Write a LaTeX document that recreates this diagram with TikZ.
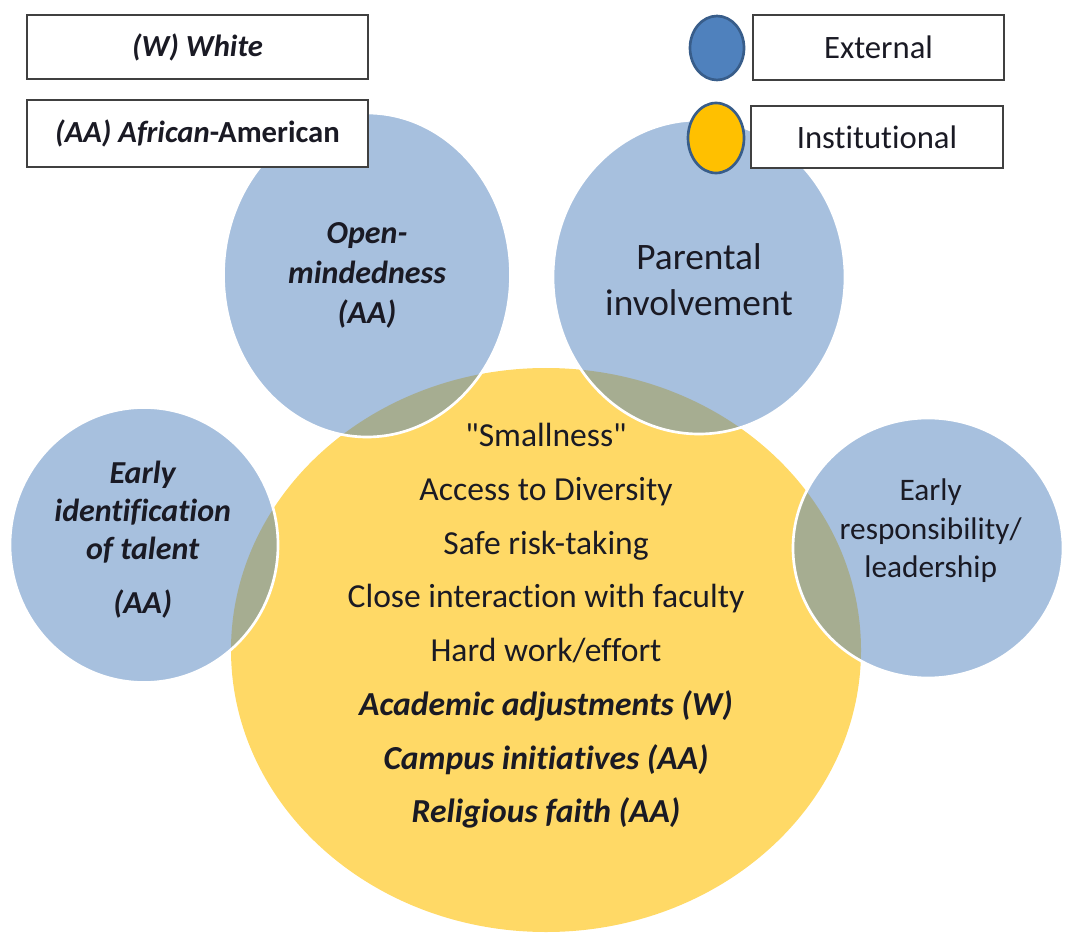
\documentclass[tikz,border=0pt]{standalone}
\usepackage{fontspec}
\setmainfont{Carlito}[Ligatures={NoCommon}]
\usetikzlibrary{shapes.geometric}
\newcommand\plainquote{\XeTeXglyph\XeTeXcharglyph"22\relax}
\definecolor{extblue}{HTML}{4F81BD}
\definecolor{instgold}{HTML}{FFC000}
\definecolor{rimblue}{HTML}{385D8A}
\definecolor{ink}{HTML}{1A1A24}
\definecolor{frame}{HTML}{404040}
\begin{document}
\begin{tikzpicture}[x=0.75pt,y=-0.75pt,
  bubble/.style={ellipse, inner sep=0pt, fill=extblue, fill opacity=0.5,
    draw=white, line width=2pt},
  core/.style={ellipse, inner sep=0pt, fill=instgold, fill opacity=0.6},
  bubtext/.style={align=center, text=ink, inner sep=0pt},
  keybox/.style={rectangle, draw=frame, fill=white, line width=1.5pt,
    text=ink, inner sep=0pt, font={\fontsize{23}{28}\selectfont}},
  keydot/.style={ellipse, inner sep=0pt, draw=rimblue, line width=2pt}]
\useasboundingbox (0,0) rectangle (1073,937);

% institutional core
\node[core, minimum width=472.5pt, minimum height=423pt] (inst) at (546,650) {};

% external factors
\node[bubble, minimum width=215.25pt, minimum height=243pt] (open) at (367,275) {};
\node[bubble, minimum width=219pt, minimum height=235.5pt] (parent) at (699,277) {};
\node[bubble, minimum width=201pt, minimum height=206.25pt] (talent) at (144,545) {};
\node[bubble, minimum width=202.5pt, minimum height=195pt] (lead) at (928,548) {};

% labels
\node[bubtext, font={\fontsize{24}{30}\selectfont\bfseries\itshape}] (opentext)
  at (open.center) {Open-\\mindedness\\(AA)};
\node[bubtext, font={\fontsize{28}{34}\selectfont}] (parenttext)
  at ([yshift=-2pt]parent.center) {Parental\\involvement};
\node[bubtext, font={\fontsize{24}{28.5}\selectfont\bfseries\itshape}] (talenttext)
  at ([xshift=-1pt,yshift=4pt]talent.center) {Early\\identification\\of talent\\[12pt](AA)};
\node[bubtext, font={\fontsize{23.5}{29}\selectfont}] (leadtext)
  at ([xshift=2pt,yshift=13pt]lead.center) {Early\\responsibility/\\leadership};
\node[bubtext, font={\fontsize{25.2}{40.3}\selectfont}] (insttext)
  at ([yshift=18pt]inst.center) {\plainquote Smallness\plainquote\\Access to Diversity\\Safe risk-taking\\
  Close interaction with faculty\\Hard work/effort\\
  \textbf{\textit{Academic adjustments (W)}}\\
  \textbf{\textit{Campus initiatives (AA)}}\\
  \textbf{\textit{Religious faith (AA)}}};

% key
\node[keybox, minimum width=255.75pt, minimum height=48pt] (keyw) at (197.5,47)
  {\textbf{\textit{(W) White}}};
\node[keybox, minimum width=255.75pt, minimum height=50pt] (keyaa) at (197.5,133.5)
  {\textbf{\textit{(AA) African}-American}};
\node[keybox, minimum width=188.25pt, minimum height=48.75pt,
  font={\fontsize{24.5}{29}\selectfont}] (keyext) at (878.5,47.5) {External};
\node[keybox, minimum width=189pt, minimum height=46.5pt,
  font={\fontsize{24.5}{29}\selectfont}] (keyinst) at (877,137) {Institutional};
\node[keydot, fill=extblue, minimum width=40.5pt, minimum height=48pt] (dotext) at (717,48) {};
\node[keydot, fill=instgold, minimum width=42pt, minimum height=52.5pt] (dotinst) at (716,138) {};
\end{tikzpicture}
\end{document}
